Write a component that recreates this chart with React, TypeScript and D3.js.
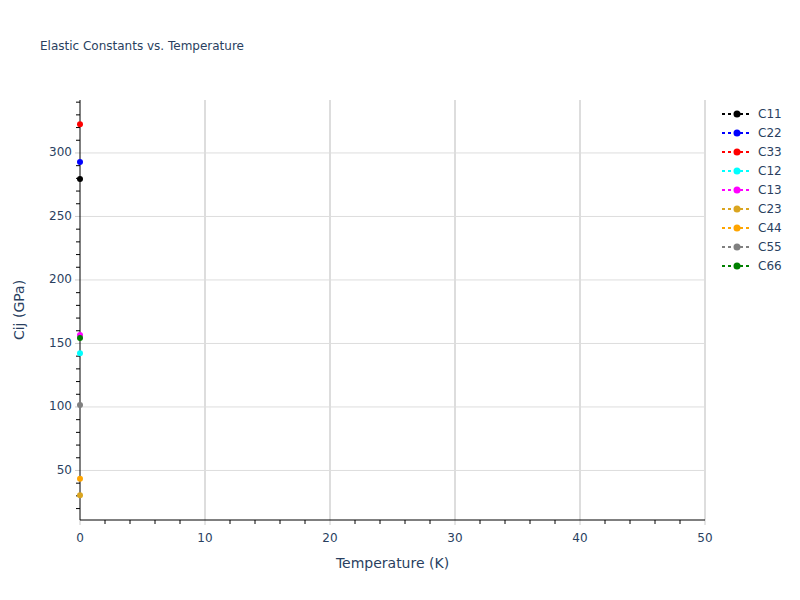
import React from "react";
import * as d3 from "d3";

const temperatures = [0];
const seriesNames = ["C11", "C22", "C33", "C12", "C13", "C23", "C44", "C55", "C66"];
const seriesColors = ["black", "blue", "red", "cyan", "magenta", "goldenrod", "orange", "gray", "green"];
const c11 = [279.5];
const c22 = [292.9];
const c33 = [322.6];
const c12 = [142.3];
const c13 = [156.7];
const c23 = [30.5];
const c44 = [43.5];
const c55 = [101.6];
const c66 = [154.3];
const seriesValues = [c11, c22, c33, c12, c13, c23, c44, c55, c66];
const xTicks = [0, 10, 20, 30, 40, 50];
const yTicks = [50, 100, 150, 200, 250, 300];

const W = 800, H = 600;
const M = { left: 80, right: 705, top: 100, bottom: 520 };
const FONT = '"DejaVu Sans", Verdana, sans-serif';
const TXT = "#2a3f5f";

export default function App() {
  const x = d3.scaleLinear().domain([0, 50]).range([M.left, M.right]);
  const y = d3.scaleLinear().domain([11.0, 341.7]).range([M.bottom, M.top]);
  const xMinor = d3.range(0, 50.01, 2).filter((v) => v % 10 !== 0);
  const yMinor = d3.range(20, 341, 10).filter((v) => v % 50 !== 0);
  const line = d3.line<[number, number]>().x((d) => d[0]).y((d) => d[1]);

  return (
    <svg width={W} height={H} style={{ position: "absolute", left: 0, top: 0, background: "white" }} fontFamily={FONT}>
      <rect x={0} y={0} width={W} height={H} fill="white" />
      <text x={40} y={50} fontSize={12} fill={TXT}>Elastic Constants vs. Temperature</text>
      {/* grid */}
      {xTicks.filter((t) => t !== 0).map((t) => (
        <line key={"gx" + t} x1={x(t)} x2={x(t)} y1={M.top} y2={M.bottom} stroke="#dddddd" strokeWidth={2} />
      ))}
      {yTicks.map((t) => (
        <line key={"gy" + t} x1={M.left} x2={M.right} y1={y(t)} y2={y(t)} stroke="#dddddd" strokeWidth={1} />
      ))}
      {/* major ticks */}
      {xTicks.map((t) => (
        <line key={"mx" + t} x1={x(t)} x2={x(t)} y1={M.bottom} y2={M.bottom + 5} stroke="#cccccc" strokeWidth={1} />
      ))}
      {yTicks.map((t) => (
        <line key={"my" + t} x1={M.left - 5} x2={M.left} y1={y(t)} y2={y(t)} stroke="#cccccc" strokeWidth={1} />
      ))}
      {/* minor ticks */}
      {xMinor.map((t) => (
        <line key={"nx" + t} x1={x(t)} x2={x(t)} y1={M.bottom} y2={M.bottom + 4} stroke="black" strokeWidth={1} />
      ))}
      {yMinor.map((t) => (
        <line key={"ny" + t} x1={M.left - 4} x2={M.left} y1={y(t)} y2={y(t)} stroke="black" strokeWidth={1} />
      ))}
      {/* axis lines */}
      <line x1={M.left} x2={M.left} y1={M.top} y2={M.bottom} stroke="black" strokeWidth={1} />
      <line x1={M.left} x2={M.right} y1={M.bottom} y2={M.bottom} stroke="black" strokeWidth={1} />
      {/* tick labels */}
      {xTicks.map((t) => (
        <text key={"lx" + t} x={x(t)} y={M.bottom + 18} fontSize={12} fill={TXT} textAnchor="middle" dominantBaseline="middle">{t}</text>
      ))}
      {yTicks.map((t) => (
        <text key={"ly" + t} x={M.left - 8} y={y(t)} fontSize={12} fill={TXT} textAnchor="end" dominantBaseline="middle">{t}</text>
      ))}
      {/* axis titles */}
      <text x={(M.left + M.right) / 2} y={568} fontSize={14} fill={TXT} textAnchor="middle">Temperature (K)</text>
      <text transform={`translate(24,${(M.top + M.bottom) / 2}) rotate(-90)`} fontSize={14} fill={TXT} textAnchor="middle">Cij (GPa)</text>
      {/* data */}
      {seriesValues.map((vals, i) => (
        <g key={"s" + i}>
          <path
            d={line(vals.map((v, j) => [x(temperatures[j]), y(v)] as [number, number])) || ""}
            fill="none"
            stroke={seriesColors[i]}
            strokeWidth={2}
            strokeDasharray="3,3"
          />
          {vals.map((v, j) => (
            <circle key={j} cx={x(temperatures[j])} cy={y(v)} r={3} fill={seriesColors[i]} />
          ))}
        </g>
      ))}
      {/* legend */}
      {seriesNames.map((n, i) => {
        const ly = 114 + i * 19;
        return (
          <g key={"lg" + n}>
            <line x1={722} x2={752} y1={ly} y2={ly} stroke={seriesColors[i]} strokeWidth={2} strokeDasharray="3,3" />
            <circle cx={737} cy={ly} r={3.5} fill={seriesColors[i]} />
            <text x={758} y={ly} fontSize={12} fill={TXT} dominantBaseline="middle">{n}</text>
          </g>
        );
      })}
    </svg>
  );
}
